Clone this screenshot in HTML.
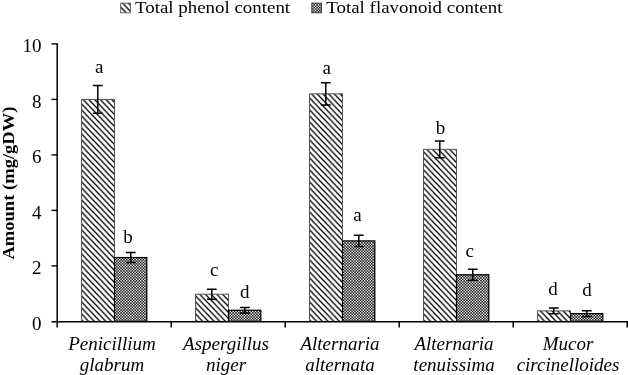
<!DOCTYPE html>
<html lang="en"><head><meta charset="utf-8"><title>Total phenol and flavonoid content</title>
<style>html,body{margin:0;padding:0;background:#fff}body{width:628px;height:375px;overflow:hidden}svg{display:block}text{font-family:"Liberation Serif","Times New Roman",serif;font-size:19px;fill:#000}</style>
</head><body>
<svg width="628" height="375" viewBox="0 0 628 375">
<defs>
<pattern id="ph" width="5.7" height="6" patternUnits="userSpaceOnUse"><rect width="5.7" height="6" fill="#fff"/><path d="M-5.7,-6 L11.4,12 M-5.7,0 L5.7,12 M0,-6 L11.4,6" stroke="#000" stroke-width="1.25"/></pattern>
<pattern id="fl" width="14" height="14" patternUnits="userSpaceOnUse"><rect width="14" height="14" fill="#000"/><g fill="#fff"><rect x="0.0" y="0.0" width="1.4" height="1.4"/><rect x="0.0" y="2.8" width="1.4" height="1.4"/><rect x="0.0" y="5.6" width="1.4" height="1.4"/><rect x="0.0" y="8.4" width="1.4" height="1.4"/><rect x="0.0" y="11.2" width="1.4" height="1.4"/><rect x="1.4" y="1.4" width="1.4" height="1.4"/><rect x="1.4" y="4.2" width="1.4" height="1.4"/><rect x="1.4" y="7.0" width="1.4" height="1.4"/><rect x="1.4" y="9.8" width="1.4" height="1.4"/><rect x="1.4" y="12.6" width="1.4" height="1.4"/><rect x="2.8" y="0.0" width="1.4" height="1.4"/><rect x="2.8" y="2.8" width="1.4" height="1.4"/><rect x="2.8" y="5.6" width="1.4" height="1.4"/><rect x="2.8" y="8.4" width="1.4" height="1.4"/><rect x="2.8" y="11.2" width="1.4" height="1.4"/><rect x="4.2" y="1.4" width="1.4" height="1.4"/><rect x="4.2" y="4.2" width="1.4" height="1.4"/><rect x="4.2" y="7.0" width="1.4" height="1.4"/><rect x="4.2" y="9.8" width="1.4" height="1.4"/><rect x="4.2" y="12.6" width="1.4" height="1.4"/><rect x="5.6" y="0.0" width="1.4" height="1.4"/><rect x="5.6" y="2.8" width="1.4" height="1.4"/><rect x="5.6" y="5.6" width="1.4" height="1.4"/><rect x="5.6" y="8.4" width="1.4" height="1.4"/><rect x="5.6" y="11.2" width="1.4" height="1.4"/><rect x="7.0" y="1.4" width="1.4" height="1.4"/><rect x="7.0" y="4.2" width="1.4" height="1.4"/><rect x="7.0" y="7.0" width="1.4" height="1.4"/><rect x="7.0" y="9.8" width="1.4" height="1.4"/><rect x="7.0" y="12.6" width="1.4" height="1.4"/><rect x="8.4" y="0.0" width="1.4" height="1.4"/><rect x="8.4" y="2.8" width="1.4" height="1.4"/><rect x="8.4" y="5.6" width="1.4" height="1.4"/><rect x="8.4" y="8.4" width="1.4" height="1.4"/><rect x="8.4" y="11.2" width="1.4" height="1.4"/><rect x="9.8" y="1.4" width="1.4" height="1.4"/><rect x="9.8" y="4.2" width="1.4" height="1.4"/><rect x="9.8" y="7.0" width="1.4" height="1.4"/><rect x="9.8" y="9.8" width="1.4" height="1.4"/><rect x="9.8" y="12.6" width="1.4" height="1.4"/><rect x="11.2" y="0.0" width="1.4" height="1.4"/><rect x="11.2" y="2.8" width="1.4" height="1.4"/><rect x="11.2" y="5.6" width="1.4" height="1.4"/><rect x="11.2" y="8.4" width="1.4" height="1.4"/><rect x="11.2" y="11.2" width="1.4" height="1.4"/><rect x="12.6" y="1.4" width="1.4" height="1.4"/><rect x="12.6" y="4.2" width="1.4" height="1.4"/><rect x="12.6" y="7.0" width="1.4" height="1.4"/><rect x="12.6" y="9.8" width="1.4" height="1.4"/><rect x="12.6" y="12.6" width="1.4" height="1.4"/></g></pattern>
</defs>
<rect width="628" height="375" fill="#fff"/>
<rect x="120.7" y="3.1" width="9.7" height="9.7" fill="url(#ph)" stroke="#555" stroke-width="0.9"/>
<text transform="translate(135,13) scale(0.995,0.915)">Total phenol content</text>
<rect x="311.8" y="3.1" width="9.7" height="9.7" fill="url(#fl)" stroke="#333" stroke-width="0.9"/>
<text transform="translate(326.3,13) scale(0.995,0.915)">Total flavonoid content</text>
<text transform="translate(13.6,259.6) rotate(-90) scale(0.977,0.885)" font-weight="bold">Amount (mg/gDW)</text>
<rect x="81.50" y="99.40" width="33.00" height="222.00" fill="url(#ph)" stroke="#555" stroke-width="1"/>
<path d="M97.80,85.52 V113.27 M92.90,85.52 H102.70 M92.90,113.27 H102.70" stroke="#000" stroke-width="1.5" fill="none"/>
<text x="99.20" y="72.82" text-anchor="middle">a</text>
<rect x="114.50" y="257.57" width="32.30" height="63.82" fill="url(#fl)" stroke="#000" stroke-width="1.25"/>
<path d="M130.80,252.58 V262.57 M125.90,252.58 H135.70 M125.90,262.57 H135.70" stroke="#000" stroke-width="1.5" fill="none"/>
<text x="127.90" y="242.58" text-anchor="middle">b</text>
<rect x="195.50" y="294.20" width="33.00" height="27.19" fill="url(#ph)" stroke="#555" stroke-width="1"/>
<path d="M211.80,289.21 V299.20 M206.90,289.21 H216.70 M206.90,299.20 H216.70" stroke="#000" stroke-width="1.5" fill="none"/>
<text x="214.10" y="276.31" text-anchor="middle">c</text>
<rect x="228.50" y="310.30" width="32.30" height="11.10" fill="url(#fl)" stroke="#000" stroke-width="1.25"/>
<path d="M244.80,307.52 V313.07 M239.90,307.52 H249.70 M239.90,313.07 H249.70" stroke="#000" stroke-width="1.5" fill="none"/>
<text x="244.80" y="298.02" text-anchor="middle">d</text>
<rect x="309.50" y="93.85" width="33.00" height="227.55" fill="url(#ph)" stroke="#555" stroke-width="1"/>
<path d="M325.80,82.75 V104.95 M320.90,82.75 H330.70 M320.90,104.95 H330.70" stroke="#000" stroke-width="1.5" fill="none"/>
<text x="326.80" y="74.05" text-anchor="middle">a</text>
<rect x="342.50" y="240.92" width="32.30" height="80.47" fill="url(#fl)" stroke="#000" stroke-width="1.25"/>
<path d="M358.80,235.37 V246.47 M353.90,235.37 H363.70 M353.90,246.47 H363.70" stroke="#000" stroke-width="1.5" fill="none"/>
<text x="357.40" y="220.57" text-anchor="middle">a</text>
<rect x="423.50" y="149.35" width="33.00" height="172.05" fill="url(#ph)" stroke="#555" stroke-width="1"/>
<path d="M439.80,141.02 V157.67 M434.90,141.02 H444.70 M434.90,157.67 H444.70" stroke="#000" stroke-width="1.5" fill="none"/>
<text x="440.50" y="133.92" text-anchor="middle">b</text>
<rect x="456.50" y="274.78" width="32.30" height="46.62" fill="url(#fl)" stroke="#000" stroke-width="1.25"/>
<path d="M472.80,269.23 V280.33 M467.90,269.23 H477.70 M467.90,280.33 H477.70" stroke="#000" stroke-width="1.5" fill="none"/>
<text x="469.60" y="257.23" text-anchor="middle">c</text>
<rect x="537.50" y="310.85" width="33.00" height="10.55" fill="url(#ph)" stroke="#555" stroke-width="1"/>
<path d="M553.80,308.08 V313.63 M548.90,308.08 H558.70 M548.90,313.63 H558.70" stroke="#000" stroke-width="1.5" fill="none"/>
<text x="553.10" y="294.78" text-anchor="middle">d</text>
<rect x="570.50" y="313.63" width="32.30" height="7.77" fill="url(#fl)" stroke="#000" stroke-width="1.25"/>
<path d="M586.80,310.85 V316.40 M581.90,310.85 H591.70 M581.90,316.40 H591.70" stroke="#000" stroke-width="1.5" fill="none"/>
<text x="587.00" y="295.55" text-anchor="middle">d</text>
<path d="M57.2,43.30 V327.60 M51.5,321.79999999999995 H628" stroke="#000" stroke-width="1.5" fill="none"/>
<text x="41.4" y="329.80" text-anchor="end" font-size="18">0</text>
<path d="M51.5,265.90 H57.2" stroke="#000" stroke-width="1.4"/>
<text x="41.4" y="274.30" text-anchor="end" font-size="18">2</text>
<path d="M51.5,210.40 H57.2" stroke="#000" stroke-width="1.4"/>
<text x="41.4" y="218.80" text-anchor="end" font-size="18">4</text>
<path d="M51.5,154.90 H57.2" stroke="#000" stroke-width="1.4"/>
<text x="41.4" y="163.30" text-anchor="end" font-size="18">6</text>
<path d="M51.5,99.40 H57.2" stroke="#000" stroke-width="1.4"/>
<text x="41.4" y="107.80" text-anchor="end" font-size="18">8</text>
<path d="M51.5,43.90 H57.2" stroke="#000" stroke-width="1.4"/>
<text x="41.4" y="52.30" text-anchor="end" font-size="18">10</text>
<path d="M171.20,321.4 V327.60" stroke="#000" stroke-width="1.5"/>
<path d="M285.20,321.4 V327.60" stroke="#000" stroke-width="1.5"/>
<path d="M399.20,321.4 V327.60" stroke="#000" stroke-width="1.5"/>
<path d="M513.20,321.4 V327.60" stroke="#000" stroke-width="1.5"/>
<path d="M627.20,321.4 V327.60" stroke="#000" stroke-width="1.5"/>
<text x="112.00" y="349.8" text-anchor="middle" font-style="italic" font-size="18.7">Penicillium</text>
<text x="112.00" y="370.9" text-anchor="middle" font-style="italic" font-size="18.7">glabrum</text>
<text x="226.00" y="349.8" text-anchor="middle" font-style="italic" font-size="18.7">Aspergillus</text>
<text x="226.00" y="370.9" text-anchor="middle" font-style="italic" font-size="18.7">niger</text>
<text x="340.00" y="349.8" text-anchor="middle" font-style="italic" font-size="18.7">Alternaria</text>
<text x="340.00" y="370.9" text-anchor="middle" font-style="italic" font-size="18.7">alternata</text>
<text x="454.00" y="349.8" text-anchor="middle" font-style="italic" font-size="18.7">Alternaria</text>
<text x="454.00" y="370.9" text-anchor="middle" font-style="italic" font-size="18.7">tenuissima</text>
<text x="568.00" y="349.8" text-anchor="middle" font-style="italic" font-size="18.7">Mucor</text>
<text x="568.00" y="370.9" text-anchor="middle" font-style="italic" font-size="18.7">circinelloides</text>
</svg></body></html>
